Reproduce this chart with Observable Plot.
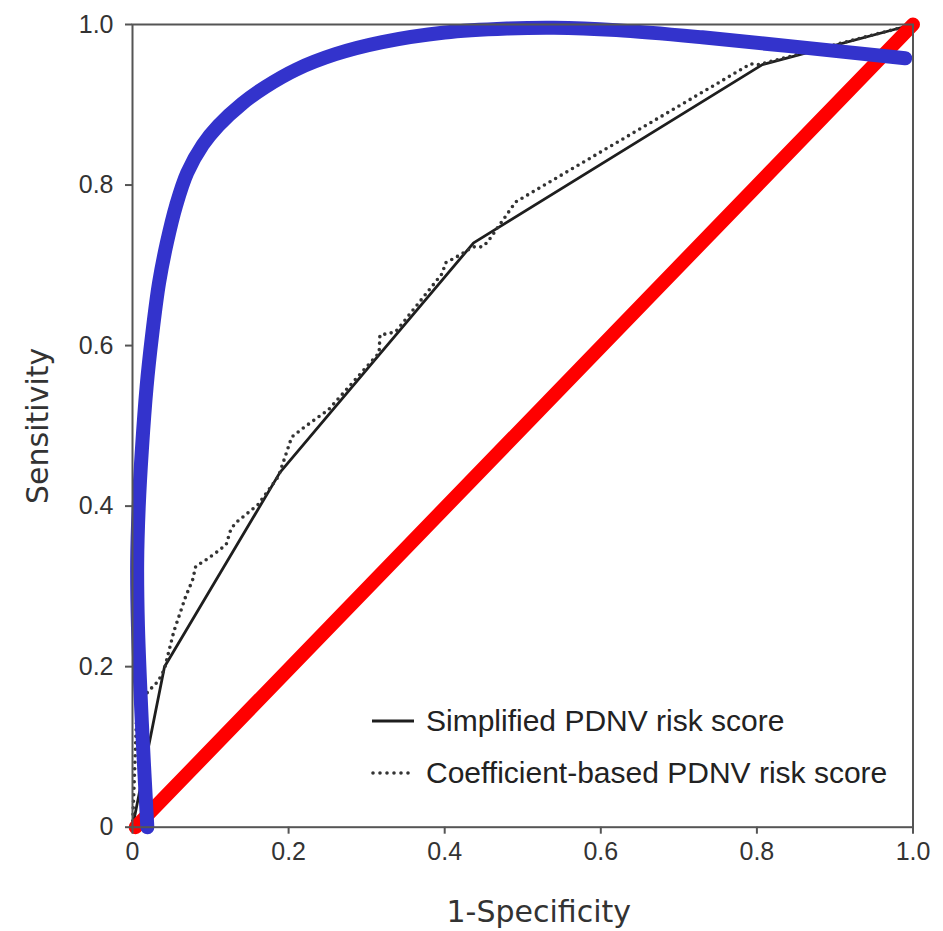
<!DOCTYPE html>
<html><head><meta charset="utf-8">
<script src="https://cdn.jsdelivr.net/npm/d3@7"></script>
<script src="https://cdn.jsdelivr.net/npm/@observablehq/plot@0.6"></script>
<style>
html,body{margin:0;padding:0;background:#fff;}
#wrap{position:relative;width:943px;height:931px;}
.legend{position:absolute;left:370px;top:695px;font-family:"Liberation Sans",Arial,Helvetica,sans-serif;font-size:30px;color:#222;}
.legend .row{display:flex;align-items:center;height:52px;}
.legend svg{margin-right:12px;}
</style></head>
<body><div id="wrap"></div>
<script>
// ---- data ----
const xTicks = [0, 0.2, 0.4, 0.6, 0.8, 1.0];
const yTicks = [0, 0.2, 0.4, 0.6, 0.8, 1.0];
const xLabel = "1-Specificity";
const yLabel = "Sensitivity";
const seriesNames = ["Simplified PDNV risk score", "Coefficient-based PDNV risk score"];

const simplifiedX = [0, 0.041, 0.189, 0.437, 0.807, 1.0];
const simplifiedY = [0, 0.200, 0.442, 0.728, 0.950, 1.0];

const coefX = [0, 0.005, 0.019, 0.033, 0.041, 0.045, 0.053, 0.068, 0.077, 0.081, 0.094, 0.107, 0.120, 0.126, 0.132, 0.161, 0.187, 0.195, 0.204, 0.221, 0.251, 0.316, 0.317, 0.337, 0.397, 0.401, 0.420, 0.436, 0.448, 0.455, 0.470, 0.491, 0.792, 0.802, 1.0];
const coefY = [0, 0.130, 0.168, 0.182, 0.197, 0.213, 0.244, 0.287, 0.308, 0.325, 0.333, 0.342, 0.352, 0.371, 0.379, 0.402, 0.437, 0.460, 0.486, 0.499, 0.520, 0.591, 0.613, 0.617, 0.690, 0.703, 0.713, 0.723, 0.723, 0.729, 0.750, 0.779, 0.951, 0.950, 1.0];

const refX = [0.004, 1.0];
const refY = [0, 1.0];

const blueX = [0.019, 0.012, 0.007, 0.006, 0.008, 0.012, 0.018, 0.025, 0.034, 0.044, 0.056, 0.070, 0.090, 0.110, 0.140, 0.170, 0.210, 0.260, 0.320, 0.400, 0.480, 0.540, 0.620, 0.730, 0.990];
const blueY = [0.0, 0.13, 0.25, 0.33, 0.40, 0.470, 0.548, 0.612, 0.678, 0.728, 0.775, 0.815, 0.850, 0.874, 0.901, 0.922, 0.944, 0.963, 0.978, 0.990, 0.995, 0.996, 0.993, 0.984, 0.958];

// ---- build tables ----
const zip = (xs, ys) => xs.map((x, i) => ({x, y: ys[i]}));
const simplified = zip(simplifiedX, simplifiedY);
const coef = zip(coefX, coefY);
const ref = zip(refX, refY);
const blue = zip(blueX, blueY);
const fmt = d => d === 0 ? "0" : d.toFixed(1);
const font = "Liberation Sans, Arial, Helvetica, sans-serif";

const chart = Plot.plot({
  width: 943, height: 931,
  marginLeft: 132, marginRight: 30.5, marginTop: 24, marginBottom: 104.3,
  style: {fontFamily: font, background: "#fff", color: "#333", overflow: "visible"},
  x: {domain: [0, 1]},
  y: {domain: [0, 1]},
  marks: [
    Plot.line(simplified, {x: "x", y: "y", stroke: "#1e1e1e", strokeWidth: 2.8}),
    Plot.line(coef, {x: "x", y: "y", stroke: "#333", strokeWidth: 3.6, strokeDasharray: "0,6.5", strokeLinecap: "round"}),
    Plot.line(ref, {x: "x", y: "y", stroke: "#ff0000", strokeWidth: 14, strokeLinecap: "round"}),
    Plot.line(blue, {x: "x", y: "y", stroke: "#3333cc", strokeWidth: 14, strokeLinecap: "round", curve: "catmull-rom"}),
    Plot.frame({stroke: "#555", strokeWidth: 2}),
    Plot.axisX({ticks: xTicks, tickFormat: fmt, tickSize: 7, tickPadding: 8, fontSize: 25, label: null, stroke: "#555", strokeWidth: 2, fill: "#333"}),
    Plot.axisY({ticks: yTicks, tickFormat: fmt, tickSize: 7, tickPadding: 12, fontSize: 25, label: null, stroke: "#555", strokeWidth: 2, fill: "#333"}),
    Plot.text([xLabel], {frameAnchor: "bottom", dy: 95, dx: 16, fontSize: 30, fill: "#333", fontFamily: "DejaVu Sans"}),
    Plot.text([yLabel], {frameAnchor: "left", dx: -94, rotate: -90, textAnchor: "middle", fontSize: 30, fill: "#333", fontFamily: "DejaVu Sans"})
  ]
});
const wrap = document.getElementById("wrap");
wrap.appendChild(chart);

// legend overlay
const leg = document.createElement("div");
leg.className = "legend";
seriesNames.forEach((name, i) => {
  const row = document.createElement("div");
  row.className = "row";
  const sw = i === 0
    ? `<svg width="44" height="10"><line x1="2" y1="5" x2="44" y2="5" stroke="#1e1e1e" stroke-width="3"/></svg>`
    : `<svg width="44" height="10"><line x1="3" y1="5" x2="40" y2="5" stroke="#333" stroke-width="3.6" stroke-linecap="round" stroke-dasharray="0,7"/></svg>`;
  row.innerHTML = sw + `<span>${name}</span>`;
  leg.appendChild(row);
});
wrap.appendChild(leg);
</script>
</body></html>
